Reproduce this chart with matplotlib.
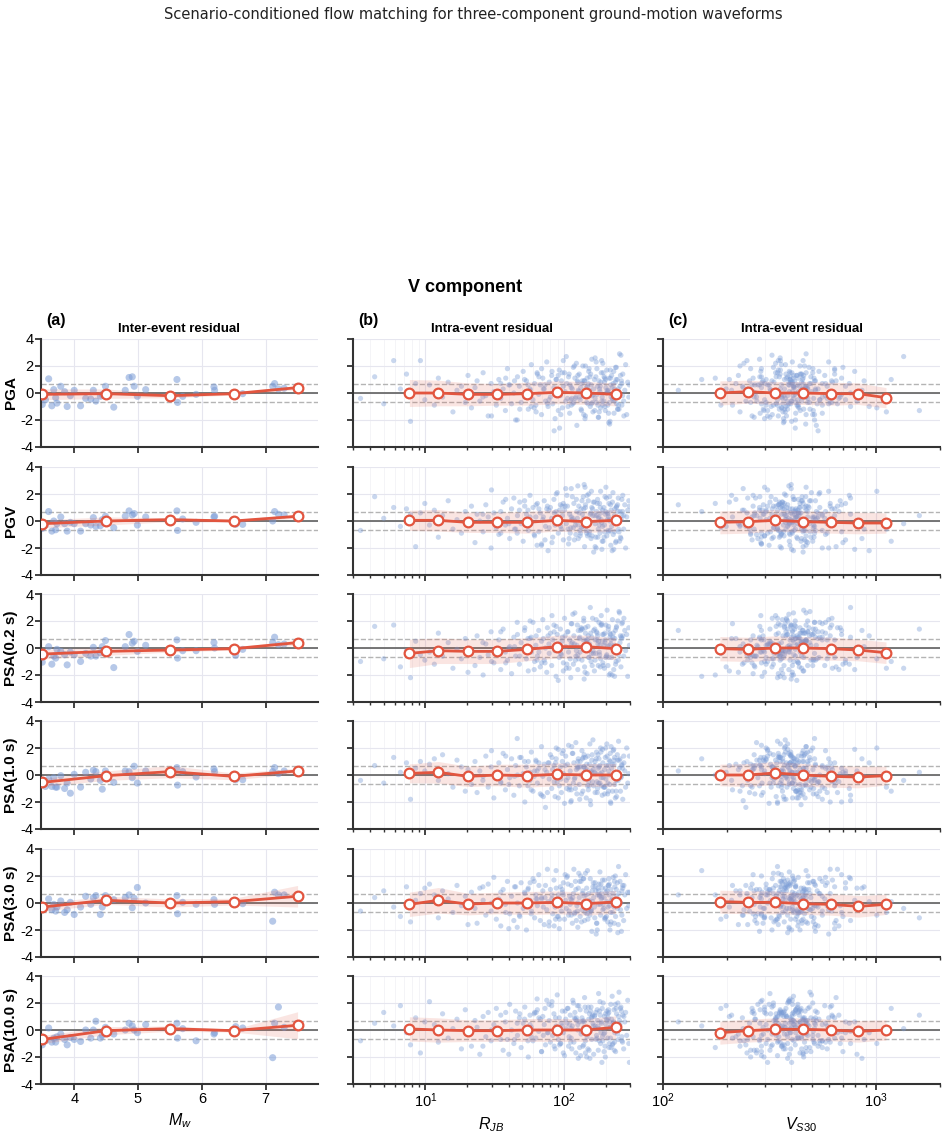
import numpy as np
import matplotlib
matplotlib.use('Agg')
import matplotlib.pyplot as plt

plt.rcParams['font.family'] = ['Liberation Sans', 'DejaVu Sans']
plt.rcParams['axes.unicode_minus'] = False
plt.rcParams['mathtext.fontset'] = 'custom'
plt.rcParams['mathtext.rm'] = 'Liberation Sans'
plt.rcParams['mathtext.it'] = 'Liberation Sans:italic'

# ---- labels ----
row_labels = ['PGA', 'PGV', 'PSA(0.2 s)', 'PSA(1.0 s)', 'PSA(3.0 s)', 'PSA(10.0 s)']

# ---- events (inter-event residuals) ----
mw = [3.50, 3.55, 3.60, 3.65, 3.68, 3.71, 3.73, 3.79, 3.85, 3.89, 3.94, 4.00, 4.10,
      4.18, 4.26, 4.30, 4.34, 4.41, 4.44, 4.49, 4.62, 4.80, 4.86, 4.91, 4.94, 4.99,
      5.12, 5.61, 5.62, 5.70, 5.91, 6.19, 6.20, 6.53, 6.64, 7.11, 7.14, 7.20, 7.29]

inter_pga = [-0.85, -0.5, 1.05, -0.95, 0.25, -0.35, -0.75, 0.5, 0.1, -1.0, -0.2, 0.2, -0.95,
             -0.4, -0.45, 0.2, -0.6, -0.25, -0.1, 0.5, -1.05, 0.2, 1.15, 1.2, 0.5, -0.25,
             0.25, 1.0, -0.7, -0.25, -0.1, 0.45, 0.2, -0.25, -0.05, 0.5, 0.7, 0.3, 0.35]
inter_pgv = [-0.55, -0.3, 0.7, -0.75, 0.0, -0.65, -0.2, 0.3, -0.2, -0.75, -0.1, -0.2, -0.75,
             -0.2, -0.3, 0.25, -0.4, -0.35, 0.1, 0.35, -0.5, 0.35, 0.75, 0.45, 0.55, -0.3,
             0.3, 0.75, -0.7, 0.15, -0.1, 0.3, 0.35, -0.25, -0.25, 0.0, 0.7, 0.5, 0.45]
inter_psa02 = [-1.05, -0.5, 0.1, -1.2, -0.6, -0.75, -0.1, -0.25, -0.5, -1.25, -0.3, -0.5, -1.0,
               -0.4, -0.6, 0.05, -0.6, -0.35, 0.1, 0.55, -1.45, 0.1, 1.0, 0.35, 0.5, -0.25,
               0.2, 0.6, -0.75, -0.2, -0.2, 0.4, 0.0, -0.55, -0.1, 0.4, 0.8, 0.25, 0.3]
inter_psa1 = [-0.4, -0.85, -0.3, -0.85, -0.2, -0.9, -0.9, -0.05, -1.0, -0.6, -1.35, 0.05, -0.9,
              0.2, -0.3, 0.35, 0.25, -0.4, -1.05, 0.3, -0.55, 0.3, 0.25, -0.2, 0.65, -0.6,
              0.3, 0.55, -0.75, 0.25, -0.15, 0.45, 0.25, -0.35, -0.35, 0.25, 0.55, 0.1, 0.3]
inter_psa3 = [-0.45, -0.3, 0.3, -0.5, -0.1, -0.6, -0.3, 0.15, -0.7, -0.5, 0.05, -0.85, -0.3,
              0.5, -0.1, 0.4, 0.55, -0.85, -0.3, 0.55, 0.25, 0.4, 0.6, -0.35, 0.35, 1.15,
              0.0, 0.55, -0.8, 0.05, -0.1, 0.25, -0.1, 0.15, -0.05, -1.35, 0.8, 0.6, 0.6]
inter_psa10 = [-1.1, -0.8, 0.15, -0.9, -0.6, -0.9, -0.5, -0.3, -0.7, -1.1, -0.55, -0.7, -0.85,
               0.0, -0.6, 0.0, 0.65, -0.6, -0.4, 0.2, -0.3, 0.0, 0.5, 0.3, 0.0, -0.2,
               0.4, 0.5, -0.6, 0.1, -0.8, -0.3, -0.2, 0.25, 0.15, -2.05, 0.5, 1.7, 0.2]

# ---- records (intra-event residuals) ----
rjb = [3.4, 4.3, 5.0, 5.9, 6.6, 7.3, 7.8, 8.5, 9.2, 9.9,
       10.7, 11.6, 12.4, 13.3, 14.6, 15.8, 16.9, 18.2, 19.4, 20.3,
       21.5, 22.8, 23.6, 24.7, 26.1, 27.3, 28.4, 29.8, 31.2, 32.5,
       33.9, 35.0, 36.4, 37.8, 39.1, 40.6, 41.9, 43.5, 44.8, 46.2,
       47.7, 49.1, 50.8, 52.2, 53.6, 55.3, 56.9, 58.2, 59.8, 61.4,
       62.7, 64.3, 65.8, 67.5, 68.9, 70.4, 72.1, 73.6, 75.2, 76.8,
       78.3, 79.9, 81.6, 83.0, 84.7, 86.3, 87.8, 89.5, 91.1, 92.6,
       94.3, 95.9, 97.4, 99.1, 101, 103, 104, 106, 108, 110,
       111, 113, 115, 117, 118, 120, 122, 124, 126, 127,
       129, 131, 133, 135, 137, 139, 141, 143, 145, 147,
       149, 151, 153, 155, 157, 159, 162, 164, 166, 168,
       170, 172, 175, 177, 179, 182, 184, 186, 189, 191,
       194, 196, 199, 201, 204, 207, 209, 212, 215, 218,
       221, 224, 227, 230, 233, 236, 240, 243, 247, 250,
       254, 258, 262, 266, 270, 275, 279, 284, 289, 294,
       58, 66, 73, 85, 97, 112, 125, 138, 152, 167,
       181, 197, 213, 229, 245, 262, 121, 143, 176, 208,
       44, 63, 91, 132, 158, 187, 219, 238, 271, 297,
       35, 48, 57, 69, 78, 88, 95, 102, 109, 116,
       123, 130, 136, 142, 148, 154, 161, 168, 174, 180,
       185, 192, 198, 205, 211, 217, 223, 231, 239, 248,
       256, 265, 30, 40, 52, 61, 71, 82, 93, 105,
       114, 119, 128, 134, 140, 146, 156, 163, 171, 178,
       183, 190, 195, 203, 210, 216, 226, 235, 244, 252,
       26, 38, 46, 55, 64, 76, 87, 99, 107, 113,
       126, 139, 150, 160, 173, 188, 200, 214, 232, 260]

vs30 = [412, 285, 530, 356, 198, 640, 371, 455, 248, 720,
        389, 305, 512, 268, 447, 1120, 338, 590, 421, 226,
        362, 478, 295, 815, 403, 350, 262, 560, 432, 187,
        395, 670, 318, 441, 506, 279, 365, 760, 419, 340,
        236, 488, 392, 610, 325, 458, 210, 376, 545, 300,
        426, 355, 690, 270, 470, 380, 520, 245, 405, 930,
        332, 462, 575, 290, 415, 368, 152, 498, 310, 640,
        385, 255, 435, 720, 345, 400, 1350, 480, 290, 560,
        360, 212, 450, 330, 610, 410, 275, 525, 390, 860,
        440, 300, 372, 495, 230, 418, 650, 348, 465, 265,
        398, 540, 320, 760, 428, 284, 375, 455, 205, 590,
        352, 478, 410, 268, 515, 392, 1010, 338, 445, 240,
        382, 625, 298, 470, 356, 432, 520, 176, 402, 315,
        458, 364, 580, 286, 420, 700, 340, 395, 250, 490,
        412, 325, 560, 378, 448, 118, 360, 505, 292, 680,
        430, 395, 262, 535, 470, 345, 620, 408, 258, 1600,
        372, 455, 305, 795, 385, 220, 510, 440, 330, 405,
        880, 366, 425, 290, 600, 348, 470, 1180, 380, 310,
        405, 352, 478, 290, 430, 372, 515, 265, 448, 390,
        338, 560, 415, 300, 470, 385, 622, 355, 440, 230,
        398, 505, 322, 458, 368, 690, 410, 276, 485, 345,
        425, 580, 310, 392, 452, 360, 535, 288, 418, 750,
        375, 462, 330, 508, 400, 258, 445, 363, 600, 318,
        437, 385, 495, 272, 420, 348, 545, 406, 296, 470,
        360, 432, 515, 284, 395, 660, 342, 455, 378, 238,
        412, 326, 488, 370, 640, 402, 305, 468, 355, 520]

# intra-event residuals, in tenths
intra_pga = [-4, 12, -8, 24, 3, 14, -21, 7, 24, -5,
             6, -9, 11, -3, 8, -14, 2, 5, -7, 13,
             -11, 4, 9, -6, 15, -2, -17, 7, 1, -9,
             10, -4, 3, -13, 18, 6, -8, 0, -20, 12,
             5, -7, 16, -3, 9, -12, 2, 21, -5, 7,
             -9, 14, -1, 6, -16, 11, 3, -6, 23, -10,
             8, -3, 13, -8, 4, -19, 10, 1, -13, 17,
             -2, 9, -11, 5, 15, -6, 27, -4, 12, -15,
             6, -9, 3, 19, -7, 11, -3, -24, 8, 2,
             14, -5, -12, 7, 20, -1, 9, -17, 4, 11,
             -8, 16, 2, -10, 6, 25, -14, 3, 10, -4,
             12, -7, 5, -18, 9, 1, -11, 15, -3, 22,
             -6, 8, -13, 4, 17, -9, 2, 11, -21, 6,
             13, -4, 7, -15, 0, 19, -8, 10, 3, -12,
             5, 28, -9, 14, -6, 2, 21, -16, 8, -3,
             -10, 12, 6, -28, 15, -5, 9, -2, 18, -13,
             3, 11, -7, 16, -12, 7, -4, 20, -9, 1,
             9, -14, 13, 4, -8, 24, -3, 10, -17, 6,
             7, -12, 3, 18, -5, 10, -16, 1, 14, -8,
             22, -3, 9, -19, 5, 12, -7, 26, -1, -14,
             8, 15, -10, 2, -22, 11, 4, -6, 19, -9,
             13, -2, -17, 6, 10, -11, 3, 16, -26, 7,
             -4, 20, 1, -13, 9, -7, 14, -1, 23, -18,
             5, -9, 12, 0, -15, 17, -5, 8, -12, 29,
             -3, 11, -20, 6, 15, -8, 2, 24, -10, 4,
             13, -16, 7, -2, 18, -6, 10, -23, 3, 9]
intra_pgv = [-7, 18, 2, 10, -4, 9, 5, -19, 6, 13,
             -3, 8, -12, 4, 15, -6, 1, -9, 7, -2,
             11, -16, 5, 0, -8, 12, 3, -20, 6, -5,
             -10, 7, 14, -3, 2, -13, 9, 17, -6, 4,
             8, -2, -15, 11, 5, -7, 19, -1, 10, -11,
             3, 13, -8, 6, -18, 1, 15, -4, 9, -22,
             -5, 10, 2, -12, 16, -3, 7, 21, -9, 0,
             12, -6, 4, -14, 8, 24, -2, 11, -17, 5,
             -9, 3, 18, -5, 13, 0, -10, 7, 26, -13,
             6, -11, 9, 15, -4, 2, -19, 12, -7, 19,
             1, 20, -8, 5, -13, 10, 4, -23, 14, -2,
             -12, 7, 16, -6, 3, -9, 22, 1, -15, 8,
             10, -3, 5, 25, -11, 6, -7, 13, 0, -18,
             -4, 14, -10, 2, 9, -16, 11, -1, 17, -8,
             7, -13, 4, 19, -6, 12, -20, 3, 8, 15,
             -2, 9, -14, 6, 11, -5, 2, 18, -10, 4,
             13, -8, 1, -21, 7, 16, -3, 10, -12, 5,
             -6, 12, 3, -9, 22, -1, 8, -15, 4, 11,
             -9, 14, 3, -17, 8, 20, -4, 11, -13, 2,
             16, -7, 5, 25, -11, 0, 9, -19, 13, -3,
             6, -15, 18, 1, -8, 12, -22, 4, 10, -6,
             -12, 7, 23, -2, 15, -10, 3, -16, 8, 19,
             1, -14, 11, -5, 27, -9, 6, 14, -20, 2,
             10, -4, -12, 17, 3, -7, 21, -1, 12, -15,
             5, 16, -9, 8, -18, 11, 0, 13, -6, 24,
             -3, 9, 15, -11, 4, -21, 7, 18, -8, 1]
intra_psa02 = [-10, 16, -8, 17, -14, -2, -22, 5, -5, -9,
               -3, -12, 11, -6, 4, -15, -1, -8, 7, -18,
               -2, -13, 9, -7, -20, 3, -5, 12, -11, -4,
               6, -16, 14, -3, -9, 1, -19, 8, -6, 10,
               -12, 4, -1, 15, -8, -17, 7, -3, 19, -10,
               2, -6, 13, -14, 5, 21, -9, 0, -18, 9,
               -4, 11, -13, 6, 17, -2, -21, 10, 3, -7,
               14, -5, 8, -11, 22, 1, -15, 12, -3, 6,
               -8, 18, 4, -12, 9, 26, -6, 2, -16, 13,
               7, -3, 15, -9, 1, 20, -14, 11, 5, -19,
               16, -7, 3, 30, -10, 8, -2, 13, -17, 6,
               -4, 12, 9, -13, 19, 2, -8, 24, 5, -11,
               10, -15, 6, 17, -5, 1, 14, -20, 8, 3,
               -7, 21, 11, -3, 7, -12, 16, 0, -9, 27,
               4, -14, 18, 9, -6, 13, -2, 10, -21, 15,
               8, -3, -11, 12, 5, -22, 17, 6, -7, 14,
               -5, 11, 2, -16, 20, 7, -9, 15, 3, -13,
               1, 9, -24, 13, -4, 18, 6, -10, 22, 2,
               12, -6, 20, -11, 3, 16, -4, 9, -15, 25,
               -2, 8, 14, -18, 6, 1, 22, -9, 11, -3,
               17, -13, 4, 28, -7, 10, -20, 2, 15, -5,
               9, 19, -10, 0, 13, -16, 7, 24, -1, -12,
               18, 3, -8, 14, -23, 6, 11, -4, 21, 5,
               -14, 10, 2, -6, 16, -19, 8, 13, -2, 26,
               4, -11, 19, 7, -9, 15, 1, -17, 12, 3,
               -5, 22, 9, -13, 6, 17, -7, 11, -21, 8]
intra_psa1 = [-4, 7, -6, 13, 2, 9, -18, 5, 10, 3,
              8, 12, -4, 15, 1, -9, 11, 6, -12, 4,
              -7, 10, -13, 3, -1, 14, -9, 6, -17, 2,
              9, -5, 16, -11, 4, -2, 12, -15, 7, 0,
              -8, 13, 1, -20, 6, 10, -4, 17, -12, 3,
              11, -6, 5, -14, 21, -1, 8, -24, 2, 9,
              -3, 15, -10, 4, 7, -16, 12, -5, 19, -8,
              6, -13, 10, 1, -21, 14, -4, 8, 22, -9,
              3, -11, 16, -6, 9, -2, 24, -14, 5, 12,
              -7, 10, 0, 18, -12, 6, -3, 13, -17, 4,
              14, -5, 8, -19, 2, 11, 26, -8, 7, -13,
              1, 17, -10, 5, 12, -6, 20, -2, -15, 9,
              -9, 4, 13, -3, 23, -14, 7, 0, 10, -21,
              5, -12, 18, 8, -7, 2, -16, 15, -4, 11,
              12, -2, 7, -18, 14, 3, -9, 20, -6, 1,
              -11, 9, 4, -5, 16, -20, 6, 13, -8, 2,
              7, -14, 11, 19, -3, 8, -10, 4, 15, -6,
              -1, 10, -17, 6, 3, -8, 21, -12, 9, 14,
              -6, 13, 2, -15, 9, 20, -3, 7, -11, 16,
              4, -18, 12, 1, -8, 23, -5, 10, -13, 6,
              17, -2, -9, 14, 3, -20, 8, 11, -4, 25,
              -12, 5, 18, -7, 10, -1, -16, 13, 2, -10,
              21, -3, 6, -14, 15, 8, -22, 4, 12, -6,
              1, 19, -9, 7, -12, 16, 0, -17, 11, 5,
              -4, 14, 27, -8, 3, -13, 9, 18, -2, -19,
              10, 6, -11, 15, -5, 2, 20, -7, 13, -1]
intra_psa3 = [-6, 4, 9, -3, -10, 12, -14, 2, 7, 11,
              14, 6, -11, 9, 3, -7, 13, -2, 5, -16,
              8, -4, -15, 11, 2, -9, 14, -6, 19, -12,
              3, -17, 10, -1, 16, -8, 5, -13, 12, 0,
              -9, 15, -4, 7, -20, 11, 2, -6, 18, -11,
              6, -2, 21, -13, 4, 9, -16, 13, -5, 1,
              -14, 10, 3, -8, 17, -3, 24, -10, 6, -19,
              12, -6, 8, 15, -12, 2, -4, 20, -9, 5,
              -1, 13, -15, 7, 25, -7, 10, -2, -18, 11,
              4, -10, 16, -5, 9, 1, -13, 22, 6, -8,
              -12, 7, 2, 18, -6, -21, 12, 4, -3, 15,
              9, -15, 6, -1, 14, 23, -9, 3, 11, -5,
              -4, 17, -11, 8, 1, -14, 13, 6, -20, 10,
              2, -7, 19, -3, 12, -10, 5, 15, -16, 7,
              16, 0, -9, 11, -13, 6, 21, -4, 8, -2,
              -8, 13, 4, -17, 10, 3, -6, 18, 1, -11,
              5, -12, 14, 2, -22, 9, 16, -7, 11, -3,
              12, 3, -10, 20, -5, 7, -14, 1, 13, 8,
              8, -10, 15, 3, -17, 11, -2, 21, -6, 4,
              -13, 16, 7, -4, 24, -9, 1, 12, -20, 6,
              14, -1, -11, 9, 18, -7, 3, -15, 10, 27,
              -5, 13, 0, -19, 8, 16, -3, 6, -12, 19,
              2, -8, 22, -14, 5, 11, -6, 15, -23, 9,
              -1, 17, 4, -10, 13, -16, 7, 20, -4, 1,
              12, -7, -18, 10, 3, 25, -12, 6, 14, -9,
              0, 18, -5, 9, -15, 4, 11, -2, 16, -21]
intra_psa10 = [-8, 5, 13, 3, 18, -2, -11, 9, -17, 6,
               21, 4, -9, 12, -6, 1, 8, -14, 15, -3,
               -12, 7, 2, -18, 10, -5, 13, -8, 4, 16,
               -2, 11, -15, 6, -7, 19, 0, -10, 14, -4,
               9, -13, 5, 17, -3, -20, 11, 2, -8, 13,
               -6, 15, -1, 8, -16, 10, 4, -11, 22, -2,
               7, -9, 18, -4, 12, -14, 3, 26, -7, 9,
               -10, 5, 14, -2, -19, 8, 1, 16, -12, 4,
               11, -6, 3, 20, -9, 13, -17, 7, 0, -21,
               6, 15, -3, 9, -12, 2, 24, -8, 14, -5,
               -14, 8, 12, -1, 17, -7, 5, -18, 10, 3,
               13, -4, 7, -15, 1, 21, -10, 6, 16, -8,
               -3, 10, -20, 4, 14, -6, 9, -13, 2, 19,
               8, -11, 5, 15, -2, -16, 12, 1, -7, 28,
               4, 17, -8, 11, -14, 6, 13, -4, 22, -10,
               -5, 9, 16, -12, 3, -9, 18, 7, -15, 11,
               14, -2, -10, 6, 20, -5, 8, -17, 3, 12,
               -7, 13, 1, -19, 9, 5, -13, 16, 10, -24,
               -7, 12, 4, -16, 19, 2, -10, 14, -5, 22,
               9, -13, 6, 17, -3, -21, 11, 1, 15, -8,
               -2, 20, -12, 7, 13, -6, 25, -15, 3, 10,
               16, -9, 0, -18, 8, 12, -4, 21, -11, 5,
               -14, 9, 18, -1, 6, -20, 14, 3, -7, 27,
               11, -5, -16, 8, 15, 2, -10, 19, -3, 7,
               -12, 13, 5, -8, 23, -2, 9, -17, 16, 1,
               4, -11, 17, 10, -6, -24, 12, 6, -9, 14]

# ---- binned means / std ----
mw_bins = [3.5, 4.5, 5.5, 6.5, 7.5]
rjb_bins = [7.66, 12.4, 20.2, 33.1, 54.2, 88.9, 145, 236]
vs_bins = [185, 250, 337, 455, 612, 828, 1115]

inter_mean = [[-0.1, -0.05, -0.2, -0.05, 0.4],
              [-0.2, 0.0, 0.1, 0.0, 0.35],
              [-0.45, -0.25, -0.15, -0.05, 0.4],
              [-0.55, -0.05, 0.25, -0.1, 0.3],
              [-0.3, 0.2, 0.0, 0.1, 0.5],
              [-0.7, -0.05, 0.1, -0.05, 0.35]]
inter_std = [[0.4, 0.35, 0.15, 0.1, 0.15],
             [0.3, 0.3, 0.15, 0.1, 0.15],
             [0.35, 0.3, 0.15, 0.1, 0.2],
             [0.3, 0.35, 0.45, 0.25, 0.2],
             [0.3, 0.3, 0.3, 0.25, 0.8],
             [0.3, 0.3, 0.2, 0.1, 1.0]]
rjb_mean = [[0.0, 0.0, -0.1, -0.1, -0.05, 0.05, 0.0, -0.1],
            [0.05, 0.05, -0.1, -0.1, -0.1, 0.05, -0.05, 0.05],
            [-0.4, -0.2, -0.25, -0.25, -0.1, 0.1, 0.1, -0.05],
            [0.12, 0.2, -0.1, 0.0, -0.05, 0.05, 0.0, 0.0],
            [-0.1, 0.2, -0.08, 0.0, 0.0, 0.05, -0.05, 0.08],
            [0.08, 0.0, -0.05, -0.05, 0.0, 0.0, 0.0, 0.2]]
rjb_std = [[1.0, 0.95, 0.85, 0.8, 0.85, 0.85, 0.85, 0.85],
           [0.75, 0.8, 0.75, 0.75, 0.8, 0.8, 0.8, 0.8],
           [1.05, 0.95, 0.9, 0.9, 0.85, 0.85, 0.85, 0.8],
           [0.7, 0.8, 0.75, 0.8, 0.85, 0.85, 0.85, 0.85],
           [0.9, 0.95, 0.8, 0.8, 0.85, 0.85, 0.85, 0.85],
           [0.9, 0.9, 0.8, 0.8, 0.85, 0.85, 0.85, 0.85]]
vs_mean = [[0.0, 0.1, 0.0, 0.0, -0.05, -0.05, -0.35],
           [-0.1, -0.05, 0.05, -0.05, -0.1, -0.15, -0.15],
           [-0.05, -0.1, 0.0, 0.0, -0.05, -0.15, -0.35],
           [0.0, 0.0, 0.15, 0.0, -0.1, -0.15, -0.05],
           [0.1, 0.05, 0.05, -0.05, -0.1, -0.25, -0.1],
           [-0.2, -0.05, 0.05, 0.05, 0.0, -0.1, 0.0]]
vs_std = [[0.9, 0.85, 0.85, 0.85, 0.85, 0.8, 0.75],
          [0.85, 0.85, 0.8, 0.8, 0.8, 0.8, 0.75],
          [0.9, 0.9, 0.9, 0.85, 0.85, 0.8, 0.8],
          [0.8, 0.85, 0.85, 0.85, 0.8, 0.8, 0.7],
          [0.85, 0.85, 0.85, 0.8, 0.8, 0.8, 0.75],
          [0.85, 0.85, 0.85, 0.85, 0.8, 0.8, 0.75]]

inter_all = [inter_pga, inter_pgv, inter_psa02, inter_psa1, inter_psa3, inter_psa10]
intra_all = [intra_pga, intra_pgv, intra_psa02, intra_psa1, intra_psa3, intra_psa10]

BLUE = '#7a9cd6'
RED = '#e2553f'
SIGMA = 0.7


def style_axis(ax, log=False):
    ax.spines['top'].set_visible(False)
    ax.spines['right'].set_visible(False)
    for s in ('left', 'bottom'):
        ax.spines[s].set_linewidth(1.5)
        ax.spines[s].set_color('#333333')
    ax.tick_params(which='major', length=4, width=1.3, color='#333333', labelsize=10.5, pad=1.5)
    ax.tick_params(which='minor', length=2.5, width=1.0, color='#333333')
    ax.grid(True, which='major', color='#e6e6ef', linewidth=0.8, zorder=0)
    if log:
        ax.grid(True, which='minor', axis='x', color='#f2f2f6', linewidth=0.6, zorder=0)
    ax.set_ylim(-4, 4)
    ax.set_yticks([-4, -2, 0, 2, 4])
    ax.set_axisbelow(True)


def draw_panel(ax, x, y, bins, mean, std, big=False):
    ax.axhline(0, color='#6b6b6b', lw=1.3, zorder=1)
    ax.axhline(SIGMA, color='#b4b4b4', lw=1.0, ls='--', zorder=1)
    ax.axhline(-SIGMA, color='#b4b4b4', lw=1.0, ls='--', zorder=1)
    if big:
        ax.scatter(x, y, s=26, color=BLUE, alpha=0.55, edgecolors='none', zorder=2)
    else:
        ax.scatter(x, y, s=14, color=BLUE, alpha=0.4, edgecolors='none', zorder=2)
    m = np.array(mean)
    sd = np.array(std)
    ax.fill_between(bins, m - sd, m + sd, color=RED, alpha=0.15, lw=0, zorder=3)
    ax.plot(bins, m, color=RED, lw=2.0, marker='o', ms=7, mfc='white',
            mec=RED, mew=1.6, zorder=4)


fig = plt.figure(figsize=(9.46, 11.39), dpi=100)
W, H = 946, 1139
col_left = [41, 353, 663]
col_w = 277
row_top = [339, 467, 594, 721, 849, 976]
row_h = 108

fig.text(0.5, 1 - 15 / H, 'Scenario-conditioned flow matching for three-component ground-motion waveforms',
         ha='center', va='center', fontsize=10.5, family='DejaVu Sans', color='#222222')
fig.text(0.492, 1 - 287 / H, 'V component', ha='center', va='center', fontsize=13, fontweight='bold')

rjb_arr = np.array(rjb)
vs_arr = np.array(vs30)

for i in range(6):
    axes = []
    for j in range(3):
        ax = fig.add_axes([col_left[j] / W, 1 - (row_top[i] + row_h) / H, col_w / W, row_h / H])
        axes.append(ax)
    ax_a, ax_b, ax_c = axes
    intra = np.array(intra_all[i]) / 10.0

    draw_panel(ax_a, mw, inter_all[i], mw_bins, inter_mean[i], inter_std[i], big=True)
    draw_panel(ax_b, rjb_arr, intra, rjb_bins, rjb_mean[i], rjb_std[i])
    draw_panel(ax_c, vs_arr, intra, vs_bins, vs_mean[i], vs_std[i])

    style_axis(ax_a)
    ax_a.set_xlim(3.48, 7.82)
    ax_a.set_xticks([4, 5, 6, 7])
    ax_b.set_xscale('log')
    ax_b.set_xlim(3, 300)
    ax_c.set_xscale('log')
    ax_c.set_xlim(100, 2000)
    style_axis(ax_b, log=True)
    style_axis(ax_c, log=True)

    ax_a.set_ylabel(row_labels[i], fontsize=11, fontweight='bold', labelpad=2)
    ax_b.tick_params(labelleft=False)
    ax_c.tick_params(labelleft=False)
    if i < 5:
        for ax in axes:
            ax.tick_params(labelbottom=False)
    else:
        ax_a.set_xlabel('$M_w$', fontsize=11.5)
        ax_b.set_xlabel('$R_{JB}$', fontsize=11.5)
        ax_c.set_xlabel('$V_{S30}$', fontsize=11.5)

    if i == 0:
        ax_a.set_title('Inter-event residual', fontsize=9.5, fontweight='bold', pad=5)
        ax_b.set_title('Intra-event residual', fontsize=9.5, fontweight='bold', pad=5)
        ax_c.set_title('Intra-event residual', fontsize=9.5, fontweight='bold', pad=5)
        for ax, lab in zip(axes, ['(a)', '(b)', '(c)']):
            ax.text(0.02, 1.175, lab, transform=ax.transAxes, fontsize=11.5,
                    fontweight='bold', va='center', ha='left')

fig.savefig('out.png', dpi=100)
